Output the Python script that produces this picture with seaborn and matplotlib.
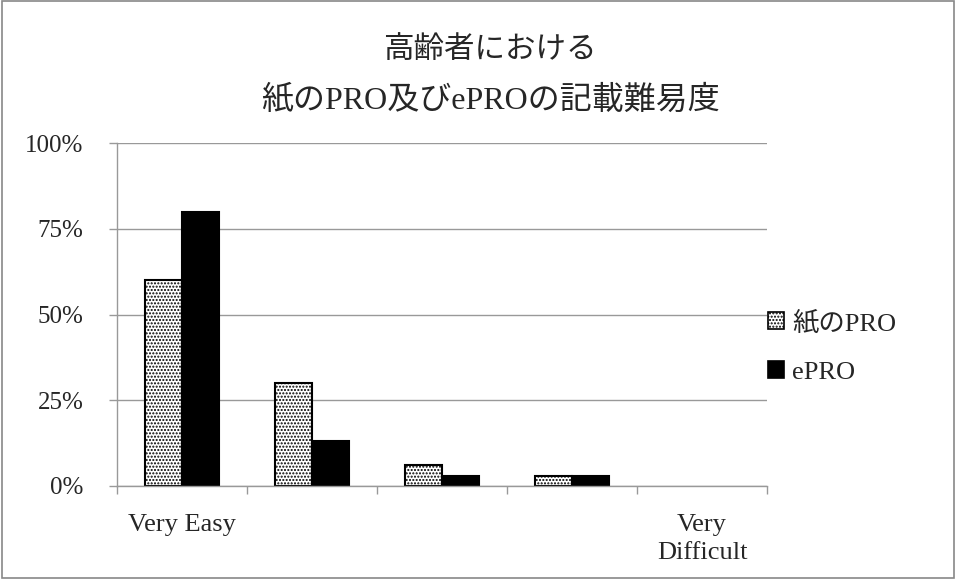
import matplotlib.pyplot as plt
import seaborn as sns
import pandas as pd
import numpy as np

# data
categories = ['Very Easy', '2', '3', '4', 'Very\nDifficult']
tick_labels = ['Very Easy', '', '', '', 'Very\nDifficult']
series_names = ['紙のPRO', 'ePRO']
paper_pro = [60, 30, 6, 3, 0]
e_pro = [80, 13, 3, 3, 0]

df = pd.DataFrame({
    'cat': categories * 2,
    'series': [series_names[0]] * 5 + [series_names[1]] * 5,
    'value': paper_pro + e_pro,
})

sns.set_theme(style='white')
plt.rcParams['font.family'] = ['Liberation Serif', 'Noto Sans CJK JP', 'DejaVu Sans']
plt.rcParams['hatch.linewidth'] = 1.0

fig = plt.figure(figsize=(9.56, 5.79), dpi=100)
ax = fig.add_axes([117 / 956, 1 - 486 / 579, 650 / 956, 343 / 579])

sns.barplot(data=df, x='cat', y='value', hue='series', order=categories,
            hue_order=series_names, palette=['white', 'black'],
            width=0.57, edgecolor='black', linewidth=1.5, ax=ax)

for bar in ax.containers[0]:
    bar.set_hatch('.....')
    bar.set_edgecolor('black')
# empty categories draw nothing
for cont in ax.containers:
    for bar in cont:
        if bar.get_height() == 0:
            bar.set_visible(False)

ax.set_ylim(0, 100)
ax.set_xlim(-0.5, 4.5)
ax.set_yticks([0, 25, 50, 75, 100])
ax.set_yticklabels(['0%', '25%', '50%', '75%', '100%'], fontsize=18)
ax.set_xticks(range(5))
ax.set_xticklabels(tick_labels, fontsize=19, linespacing=1.35)
ax.set_xticks(np.arange(-0.5, 5, 1), minor=True)
ax.tick_params(axis='x', which='major', length=0, pad=20)
ax.tick_params(axis='x', which='minor', length=6, color='#999999', width=1, direction='out', bottom=True)
ax.tick_params(axis='y', length=6, color='#999999', width=1, direction='out', left=True, pad=18)
ax.yaxis.grid(True, color='#999999', linewidth=1)
ax.set_axisbelow(True)
ax.set_xlabel('')
ax.set_ylabel('')
for s in ['top', 'right']:
    ax.spines[s].set_visible(False)
for s in ['left', 'bottom']:
    ax.spines[s].set_color('#999999')
    ax.spines[s].set_linewidth(1)

ax.legend(loc='center left', bbox_to_anchor=(0.965, 0.405), frameon=False,
          fontsize=19, handlelength=0.6, handleheight=0.6, handletextpad=0.3,
          labelspacing=1.0)
handles = ax.get_legend().legend_handles
for h in handles:
    h.set_linewidth(1.2)
handles[0].set_hatch('.....')

fig.text(490 / 956, 1 - 50 / 579, '高齢者における', ha='center', va='center', fontsize=22)
fig.text(490 / 956, 1 - 100 / 579, '紙のPRO及びePROの記載難易度', ha='center', va='center', fontsize=23)

# outer border
fig.patches.append(plt.Rectangle((0.002, 0.002), 0.996, 0.996, transform=fig.transFigure,
                                 fill=False, edgecolor='#888888', linewidth=1.2))

fig.savefig('out.png', dpi=100)
